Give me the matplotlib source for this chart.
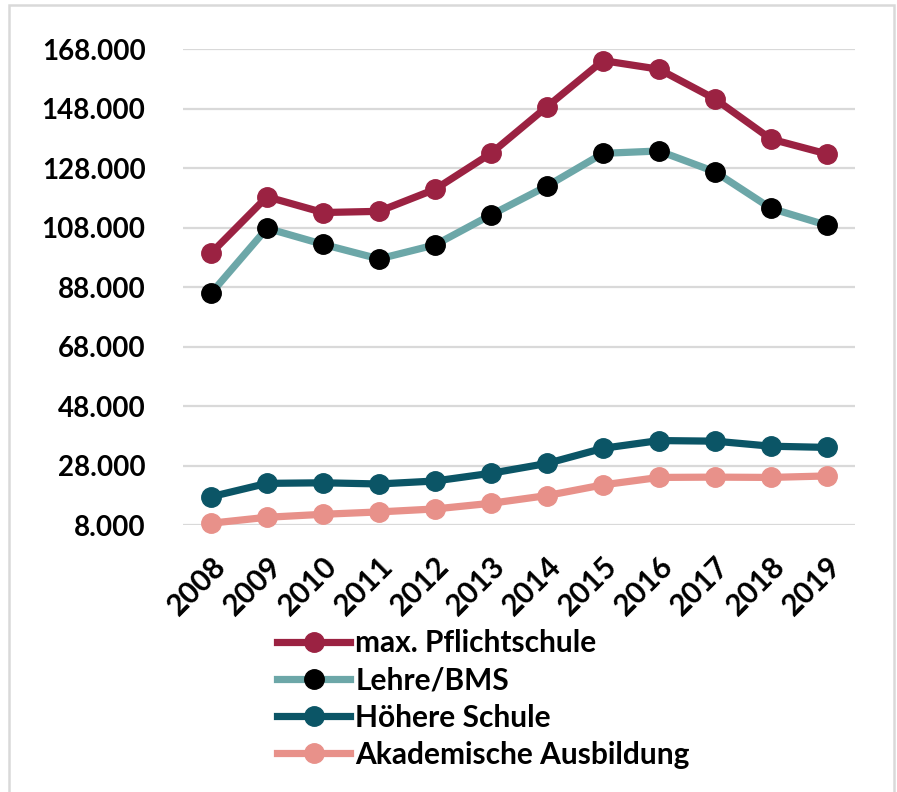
import matplotlib.pyplot as plt
from matplotlib.patches import Rectangle

# Daten
years = ['2008', '2009', '2010', '2011', '2012', '2013',
         '2014', '2015', '2016', '2017', '2018', '2019']
pflicht = [99400, 118400, 113100, 113500, 120900, 133000,
           148700, 164200, 161300, 151300, 137800, 132800]
lehre = [85900, 107800, 102400, 97500, 102200, 112300,
         122000, 133000, 133800, 126800, 114500, 108800]
hoehere = [17500, 22000, 22200, 21800, 22800, 25400,
           28700, 33800, 36400, 36200, 34500, 34100]
akad = [8600, 10600, 11600, 12400, 13400, 15300,
        17900, 21500, 24000, 24100, 24000, 24500]
yticks = [8000, 28000, 48000, 68000, 88000, 108000, 128000, 148000, 168000]

plt.rcParams['font.family'] = ['Lato', 'DejaVu Sans']
plt.rcParams['font.weight'] = 'bold'

fig = plt.figure(figsize=(8.97, 7.92), dpi=100)
ax = fig.add_axes([183 / 897, 1 - 525 / 792, 672 / 897, 475.7 / 792])

# Rahmen um das ganze Diagramm
fig.patches.append(Rectangle((9 / 897, -0.05), 885 / 897, 1.05 - 5 / 792,
                             transform=fig.transFigure, fill=False,
                             edgecolor='#D9D9D9', linewidth=1.8))

x = range(len(years))
lw = 5.2
ms = 14
ax.plot(x, pflicht, color='#9B2242', lw=lw, marker='o', ms=ms,
        label='max. Pflichtschule', clip_on=False, zorder=4)
ax.plot(x, lehre, color='#6CA7A8', lw=lw, marker='o', ms=ms,
        markerfacecolor='black', markeredgecolor='black',
        label='Lehre/BMS', clip_on=False, zorder=4)
ax.plot(x, hoehere, color='#0B5566', lw=lw, marker='o', ms=ms,
        label='Höhere Schule', clip_on=False, zorder=4)
ax.plot(x, akad, color='#E8918A', lw=lw, marker='o', ms=ms,
        label='Akademische Ausbildung', clip_on=False, zorder=4)

ax.set_xlim(-0.5, len(years) - 0.5)
ax.set_ylim(8000, 168000)
ax.set_yticks(yticks)
ax.set_yticklabels([f'{v:,}'.replace(',', '.') for v in yticks])
ax.set_xticks(list(x))
ax.set_xticklabels(years, rotation=45, ha='right', rotation_mode='anchor')

ax.grid(axis='y', color='#D9D9D9', linewidth=1.6)
ax.set_axisbelow(True)
for s in ax.spines.values():
    s.set_visible(False)
ax.tick_params(axis='y', length=0, pad=27, labelsize=20)
ax.tick_params(axis='x', length=0, pad=19, labelsize=21.5)

fig.legend(loc='upper left', bbox_to_anchor=(277 / 897, 1 - 629 / 792),
           frameon=False, fontsize=21.5, handlelength=2.45,
           handletextpad=0.17, labelspacing=0.31, borderpad=0,
           borderaxespad=0)

plt.savefig('out.png', dpi=100)
